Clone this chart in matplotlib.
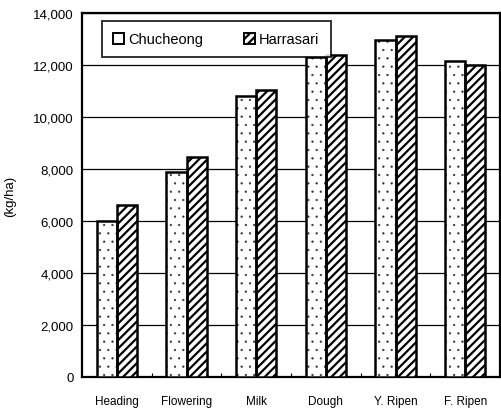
import numpy as np
import matplotlib
matplotlib.use("Agg")
import matplotlib.pyplot as plt

stages = ["Heading", "Flowering", "Milk", "Dough", "Y. Ripen", "F. Ripen"]
chucheong = [6000, 7900, 10800, 12300, 12950, 12150]
harrasari = [6600, 8450, 11050, 12400, 13100, 12000]
yticks = [0, 2000, 4000, 6000, 8000, 10000, 12000, 14000]

plt.rcParams['font.family'] = ['Liberation Sans', 'DejaVu Sans']

fig = plt.figure(figsize=(5.01, 4.14), dpi=100)
ax = fig.add_axes([0.164, 0.087, 0.834, 0.879])

x = np.arange(len(stages))
w = 0.29

def hatched_bars(xs, vals, hatch, hcolor, hlw, label):
    plt.rcParams['hatch.linewidth'] = hlw
    bars = ax.bar(xs, vals, w, color="white", edgecolor=hcolor, linewidth=0,
                  hatch=hatch, zorder=3)
    for b in bars:
        if hasattr(b, "set_hatch_linewidth"):
            b.set_hatch_linewidth(hlw)
    ax.bar(xs, vals, w, color="none", edgecolor="black", linewidth=1.8, zorder=4)
    # legend proxy
    p = plt.Rectangle((0, 0), 1, 1, facecolor="white", edgecolor="black",
                      linewidth=1.4, hatch=hatch if hatch == "////" else None,
                      label=label)
    return p

p1 = hatched_bars(x - w / 2, chucheong, "..", "#333333", 0.4, "Chucheong")
p2 = hatched_bars(x + w / 2, harrasari, "////", "black", 1.6, "Harrasari")
plt.rcParams['hatch.linewidth'] = 1.6

ax.set_xlim(-0.5, len(stages) - 0.5)
ax.set_ylim(0, 14000)
ax.set_yticks(yticks)
ax.set_yticklabels([f"{v:,}" for v in yticks], fontsize=9.5)
ax.yaxis.grid(True, color="black", linewidth=0.9, zorder=0)
ax.set_axisbelow(True)
ax.tick_params(axis="y", length=0, pad=6)

ax.set_xticks(x + 0.5, minor=False)
ax.set_xticklabels([])
ax.set_xticks(x, minor=True)
ax.set_xticklabels(stages, minor=True, fontsize=8.5)
ax.tick_params(axis="x", which="major", direction="in", length=3)
ax.tick_params(axis="x", which="minor", length=0, pad=13)

for s in ax.spines.values():
    s.set_linewidth(1.6)

ax.set_ylabel("(kg/ha)", fontsize=9.5, labelpad=12)

leg = ax.legend(handles=[p1, p2], loc="upper left", bbox_to_anchor=(0.04, 0.985),
                ncol=2, fontsize=10.5, frameon=True, fancybox=False,
                edgecolor="black", handlelength=0.75, handleheight=0.75,
                handletextpad=0.3, columnspacing=2.8,
                borderpad=0.75, borderaxespad=0.2)
leg.get_frame().set_linewidth(1.4)

fig.savefig("out.png", dpi=100)
